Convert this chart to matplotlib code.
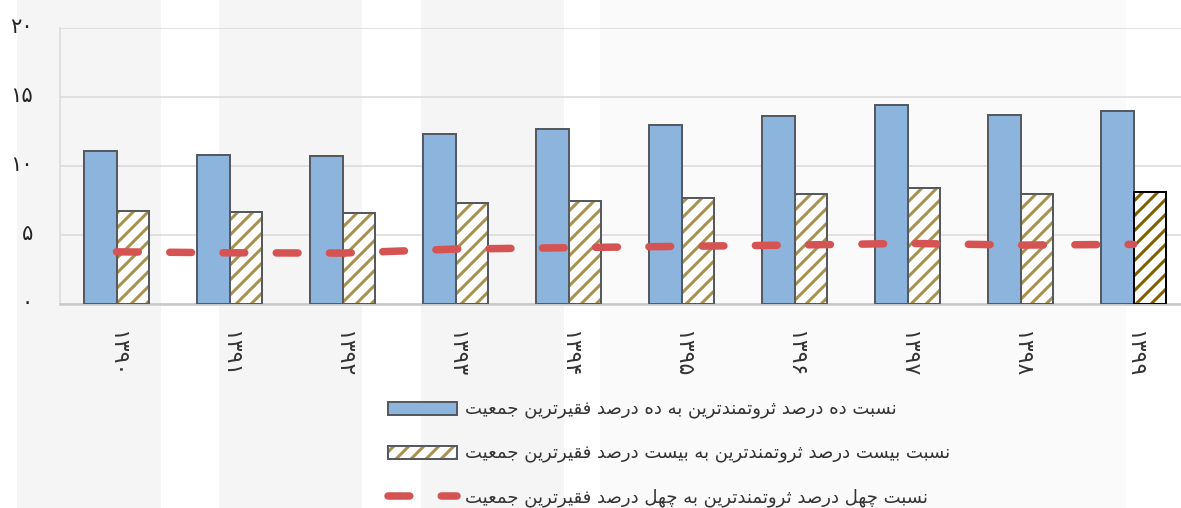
import numpy as np
import matplotlib
matplotlib.use('Agg')
import matplotlib.pyplot as plt
from matplotlib.patches import Rectangle
from matplotlib.transforms import ScaledTranslation
from matplotlib.legend_handler import HandlerTuple

# data
years = [1390, 1391, 1392, 1393, 1394, 1395, 1396, 1397, 1398, 1399]
ratio_10 = [11.1, 10.8, 10.7, 12.35, 12.65, 13.0, 13.65, 14.45, 13.7, 13.95]
ratio_20 = [6.77, 6.65, 6.58, 7.3, 7.45, 7.65, 8.0, 8.37, 7.95, 8.12]
ratio_40 = [3.78, 3.71, 3.69, 3.98, 4.08, 4.18, 4.27, 4.39, 4.27, 4.32]
y_ticks = [0, 5, 10, 15, 20]
labels = ['نسبت ده درصد ثروتمندترین به ده درصد فقیرترین جمعیت',
          'نسبت بیست درصد ثروتمندترین به بیست درصد فقیرترین جمعیت',
          'نسبت چهل درصد ثروتمندترین به چهل درصد فقیرترین جمعیت']

# matplotlib has no arabic shaping, so pick presentation forms by hand
FORMS = {
    'ا': (0xFE8D, 0xFE8E),
    'ب': (0xFE8F, 0xFE90, 0xFE91, 0xFE92),
    'ت': (0xFE95, 0xFE96, 0xFE97, 0xFE98),
    'ث': (0xFE99, 0xFE9A, 0xFE9B, 0xFE9C),
    'ج': (0xFE9D, 0xFE9E, 0xFE9F, 0xFEA0),
    'چ': (0xFB7A, 0xFB7B, 0xFB7C, 0xFB7D),
    'د': (0xFEA9, 0xFEAA),
    'ر': (0xFEAD, 0xFEAE),
    'س': (0xFEB1, 0xFEB2, 0xFEB3, 0xFEB4),
    'ص': (0xFEB9, 0xFEBA, 0xFEBB, 0xFEBC),
    'ع': (0xFEC9, 0xFECA, 0xFECB, 0xFECC),
    'ف': (0xFED1, 0xFED2, 0xFED3, 0xFED4),
    'ق': (0xFED5, 0xFED6, 0xFED7, 0xFED8),
    'ل': (0xFEDD, 0xFEDE, 0xFEDF, 0xFEE0),
    'م': (0xFEE1, 0xFEE2, 0xFEE3, 0xFEE4),
    'ن': (0xFEE5, 0xFEE6, 0xFEE7, 0xFEE8),
    'ه': (0xFEE9, 0xFEEA, 0xFEEB, 0xFEEC),
    'و': (0xFEED, 0xFEEE),
    'ی': (0xFBFC, 0xFBFD, 0xFBFE, 0xFBFF),
}


def shape(text):
    out = []
    for i, ch in enumerate(text):
        f = FORMS.get(ch)
        if f is None:
            out.append(ch)
            continue
        prev = text[i - 1] if i > 0 else ''
        nxt = text[i + 1] if i < len(text) - 1 else ''
        jp = prev in FORMS and len(FORMS[prev]) == 4
        jn = len(f) == 4 and nxt in FORMS
        if jp and jn:
            g = f[3]
        elif jp:
            g = f[1]
        elif jn:
            g = f[2]
        else:
            g = f[0]
        out.append(chr(g))
    return ''.join(reversed(out))


fa_digits = str.maketrans('0123456789', '۰۱۲۳۴۵۶۷۸۹')


def fa(n):
    return str(n).translate(fa_digits)


# dpi picked so the '//' hatch spacing matches the reference (~15 px)
DPI = 90
W, H = 1181, 508


def pt(px):
    return px * 72 / DPI


plt.rcParams['font.family'] = ['DejaVu Sans']
plt.rcParams['hatch.linewidth'] = pt(3)

fig = plt.figure(figsize=(W / DPI, H / DPI), dpi=DPI, facecolor='white')

# faint watermark bands behind the chart
for x0, x1, c in [(17, 161, '#f5f5f5'), (219, 362, '#f5f5f5'),
                  (421, 564, '#f5f5f5'), (600, 1126, '#fafafa')]:
    fig.add_artist(Rectangle((x0 / W, 0), (x1 - x0) / W, 1, transform=fig.transFigure,
                             facecolor=c, edgecolor='none', zorder=-5))

ax = fig.add_axes([60 / W, (H - 304) / H, (1190 - 60) / W, (304 - 28) / H])
ax.set_facecolor('none')

x = np.arange(len(years))
w = 0.29
ax.bar(x - w, ratio_10, w, align='edge', color='#8db4dc', edgecolor='#555a60',
       linewidth=pt(2), zorder=3)

hatch_cols = ['#a8914e'] * (len(years) - 1) + ['#7f6000']
edge_cols = ['#555a60'] * (len(years) - 1) + ['#000000']
ax.bar(x, ratio_20, w, align='edge', color='white', edgecolor=hatch_cols,
       hatch='//', linewidth=0, zorder=3)
ax.bar(x, ratio_20, w, align='edge', color='none', edgecolor=edge_cols,
       linewidth=pt(2), zorder=3)

ax.plot(x, ratio_40, color='#d55353', linewidth=pt(7.5), dashes=(2.9, 4.2),
        dash_capstyle='round', zorder=4)

ax.set_xlim(-0.5, len(years) - 0.5)
ax.set_ylim(0, 20)
ax.set_yticks(y_ticks)
ax.set_yticklabels([fa(v) for v in y_ticks], fontsize=pt(21), color='#222222')
ax.set_xticks(x)
ax.set_xticklabels([fa(v) for v in years], rotation=-90, fontsize=pt(22),
                   color='#333333')
ax.tick_params(axis='both', length=0)
ax.tick_params(axis='y', pad=pt(27))
ax.tick_params(axis='x', pad=pt(27))
for lab in ax.get_yticklabels():
    lab.set_transform(lab.get_transform() + ScaledTranslation(0, pt(3) / 72, fig.dpi_scale_trans))
ax.grid(axis='y', color='#d9d9d9', linewidth=pt(1.5), zorder=0)
for s in ['top', 'right']:
    ax.spines[s].set_visible(False)
ax.spines['left'].set_color('#d9d9d9')
ax.spines['left'].set_linewidth(pt(1.5))
ax.spines['bottom'].set_color('#c8c8c8')
ax.spines['bottom'].set_linewidth(pt(2.5))

# legend handles
h1 = Rectangle((0, 0), 1, 1, facecolor='#8db4dc', edgecolor='#555a60', linewidth=pt(2))
h2a = Rectangle((0, 0), 1, 1, facecolor='white', edgecolor='#a8914e', hatch='//', linewidth=0)
h2b = Rectangle((0, 0), 1, 1, facecolor='none', edgecolor='#555a60', linewidth=pt(2))
h3, = ax.plot([], [], color='#d55353', linewidth=pt(7.5), dashes=(2.9, 4.2),
              dash_capstyle='round')
fsz = 18
fig.legend([h1, (h2a, h2b), h3], [shape(t) for t in labels], loc='center left',
           bbox_to_anchor=(388 / W, 1 - 454 / H), frameon=False, fontsize=pt(fsz),
           handlelength=69 / fsz, handleheight=14 / fsz, handletextpad=8 / fsz,
           labelspacing=1.42, borderpad=0, borderaxespad=0, labelcolor='#333333',
           handler_map={tuple: HandlerTuple(ndivide=1, pad=0)})

fig.savefig('out.png', dpi=DPI, facecolor='white')
